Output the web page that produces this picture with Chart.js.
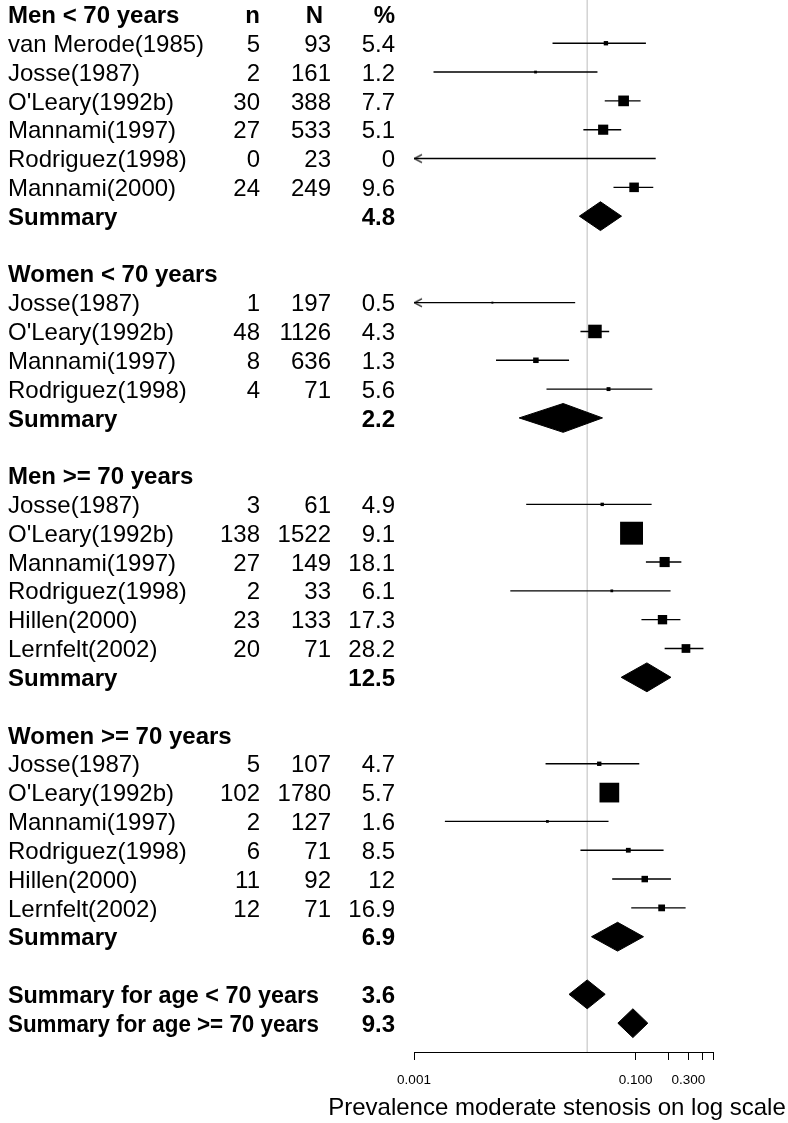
<!DOCTYPE html>
<html>
<head>
<meta charset="utf-8">
<script src="https://cdn.jsdelivr.net/npm/chart.js@4.4.0/dist/chart.umd.min.js"></script>
<style>
    html, body { margin: 0; padding: 0; background: #fff; }
    #wrap { width: 788px; height: 1123px; }
</style>
</head>
<body>
<div id="wrap"><canvas id="forestChart" width="788" height="1123"></canvas></div>
<script>
// ---- data ----
const groupTitles = ['Men < 70 years', 'Women < 70 years', 'Men >= 70 years', 'Women >= 70 years'];
const columnHeaders = ['n', 'N', '%'];

const studyNames = [
    'van Merode(1985)', 'Josse(1987)', "O'Leary(1992b)", 'Mannami(1997)', 'Rodriguez(1998)', 'Mannami(2000)',
    'Josse(1987)', "O'Leary(1992b)", 'Mannami(1997)', 'Rodriguez(1998)',
    'Josse(1987)', "O'Leary(1992b)", 'Mannami(1997)', 'Rodriguez(1998)', 'Hillen(2000)', 'Lernfelt(2002)',
    'Josse(1987)', "O'Leary(1992b)", 'Mannami(1997)', 'Rodriguez(1998)', 'Hillen(2000)', 'Lernfelt(2002)',
];
const studyGroup = [0, 0, 0, 0, 0, 0, 1, 1, 1, 1, 2, 2, 2, 2, 2, 2, 3, 3, 3, 3, 3, 3];
const nCases = [5, 2, 30, 27, 0, 24, 1, 48, 8, 4, 3, 138, 27, 2, 23, 20, 5, 102, 2, 6, 11, 12];
const nTotal = [93, 161, 388, 533, 23, 249, 197, 1126, 636, 71, 61, 1522, 149, 33, 133, 71, 107, 1780, 127, 71, 92, 71];
const pctLabels = ['5.4', '1.2', '7.7', '5.1', '0', '9.6', '0.5', '4.3', '1.3', '5.6',
    '4.9', '9.1', '18.1', '6.1', '17.3', '28.2', '4.7', '5.7', '1.6', '8.5', '12', '16.9'];
const estimates = [0.054, 0.0125, 0.078, 0.051, 0, 0.097, 0.0051, 0.043, 0.0126, 0.057,
    0.050, 0.092, 0.183, 0.061, 0.175, 0.285, 0.047, 0.058, 0.016, 0.086, 0.121, 0.172];
const ciLow = [0.0178, 0.0015, 0.0527, 0.0338, 0, 0.0632, 0.0001, 0.0318, 0.0055, 0.0157,
    0.0103, 0.078, 0.124, 0.0074, 0.113, 0.183, 0.0154, 0.050, 0.0019, 0.0318, 0.0615, 0.0914];
const ciHigh = [0.124, 0.0453, 0.111, 0.0742, 0.152, 0.1445, 0.0285, 0.0578, 0.0251, 0.1416,
    0.1396, 0.107, 0.259, 0.207, 0.254, 0.410, 0.108, 0.068, 0.057, 0.179, 0.2086, 0.283];

const summaryPct = ['4.8', '2.2', '12.5', '6.9'];
const summaryEst = [0.0482, 0.0222, 0.1265, 0.0688];
const summaryLow = [0.0311, 0.0089, 0.0742, 0.040];
const summaryHigh = [0.0747, 0.0503, 0.2086, 0.118];

const overallLabels = ['Summary for age < 70 years', 'Summary for age >= 70 years'];
const overallPct = ['3.6', '9.3'];
const overallEst = [0.0366, 0.0946];
const overallLow = [0.0251, 0.0692];
const overallHigh = [0.0532, 0.129];

const referenceValue = 0.0366;
const tickValues = [0.001, 0.1, 0.2, 0.3, 0.4, 0.5];
const tickLabels = ['0.001', '0.100', '', '0.300', '', ''];
const axisTitle = 'Prevalence moderate stenosis on log scale';

// ---- layout / style ----
const fontFamily = '"Liberation Sans", Arial, Helvetica, sans-serif';
const fontSize = 24;
const labelX = 8;
const labelMaxWidth = 311;
const textShiftY = 2;
const colRight = [260, 331, 395];
const headerRight = [260, 323, 395];
const titleX = 557;
const titleY = 1108;
const xMin = tickValues[0];
const xMax = tickValues[tickValues.length - 1];

// build the table rows (one row = one line of the plot)
const rows = [];
let rowIdx = 0;
groupTitles.forEach((title, g) => {
    rows.push({ row: rowIdx++, kind: 'header', label: title, cols: g === 0 ? columnHeaders : [] });
    studyNames.forEach((name, i) => {
        if (studyGroup[i] !== g) return;
        rows.push({
            row: rowIdx++, kind: 'study', label: name,
            cols: [String(nCases[i]), String(nTotal[i]), pctLabels[i]],
            n: nCases[i], est: estimates[i], lo: ciLow[i], hi: ciHigh[i],
        });
    });
    rows.push({
        row: rowIdx++, kind: 'summary', label: 'Summary', cols: ['', '', summaryPct[g]],
        est: summaryEst[g], lo: summaryLow[g], hi: summaryHigh[g],
    });
    rowIdx++; // blank line between groups
});
overallLabels.forEach((label, k) => {
    rows.push({
        row: rowIdx++, kind: 'summary', label, cols: ['', '', overallPct[k]],
        est: overallEst[k], lo: overallLow[k], hi: overallHigh[k],
    });
});
const axisRow = rowIdx;

const studies = rows.filter(d => d.kind === 'study');
const summaries = rows.filter(d => d.kind === 'summary');

const ciData = [];
studies.forEach(d => {
    ciData.push({ x: Math.max(d.lo, xMin), y: d.row }, { x: d.hi, y: d.row }, { x: null, y: d.row });
});

const boxData = studies.filter(d => d.est > 0).map(d => ({ x: d.est, y: d.row, n: d.n }));
const arrowData = studies.filter(d => d.lo < xMin).map(d => ({ x: xMin, y: d.row }));

// open arrow head "<" used as point style at the clipped end
const arrowHead = document.createElement('canvas');
arrowHead.width = 20;
arrowHead.height = 12;
(function () {
    const c = arrowHead.getContext('2d');
    c.strokeStyle = '#000';
    c.lineWidth = 1.3;
    c.beginPath();
    c.moveTo(18, 2);
    c.lineTo(10.5, 6);
    c.lineTo(18, 10);
    c.stroke();
})();

const diamondSets = summaries.map(d => ({
    data: [
        { x: d.lo, y: d.row },
        { x: d.est, y: d.row - 0.5 },
        { x: d.hi, y: d.row },
        { x: d.est, y: d.row + 0.5 },
        { x: d.lo, y: d.row },
    ],
    showLine: true,
    fill: 'shape',
    backgroundColor: '#000',
    borderColor: '#000',
    borderWidth: 1,
    pointRadius: 0,
    tension: 0,
}));

const tablePlugin = {
    id: 'forestTable',
    afterDraw(chart) {
        const { ctx } = chart;
        const y = chart.scales.y;
        ctx.save();
        ctx.fillStyle = '#000';
        ctx.textBaseline = 'middle';
        rows.forEach(d => {
            const py = y.getPixelForValue(d.row) + textShiftY;
            ctx.font = (d.kind === 'study' ? '' : 'bold ') + fontSize + 'px ' + fontFamily;
            ctx.textAlign = 'left';
            ctx.fillText(d.label, labelX, py, labelMaxWidth);
            ctx.textAlign = 'right';
            const right = d.kind === 'header' ? headerRight : colRight;
            d.cols.forEach((txt, k) => {
                if (txt) ctx.fillText(txt, right[k], py);
            });
        });
        // x-axis title, centred under the axis like the original
        ctx.font = fontSize + 'px ' + fontFamily;
        ctx.textAlign = 'center';
        ctx.fillText(axisTitle, titleX, titleY);
        ctx.restore();
    },
};

new Chart(document.getElementById('forestChart'), {
    type: 'scatter',
    data: {
        datasets: [
            {
                data: arrowData,
                pointStyle: arrowHead,
                pointRadius: 3,
            },
            {
                data: boxData,
                pointStyle: 'rect',
                pointRadius: ctx => Math.max(1.38 * Math.sqrt(ctx.raw ? ctx.raw.n : 1), 1.3),
                backgroundColor: '#000',
                borderWidth: 0,
            },
            ...diamondSets,
            {
                data: ciData,
                showLine: true,
                spanGaps: false,
                borderColor: '#000',
                borderWidth: 1.4,
                pointRadius: 0,
            },
            {
                data: [{ x: referenceValue, y: -0.5 }, { x: referenceValue, y: axisRow }],
                showLine: true,
                borderColor: '#d3d3d3',
                borderWidth: 1.5,
                pointRadius: 0,
            },
        ],
    },
    options: {
        responsive: false,
        animation: false,
        events: [],
        layout: {
            autoPadding: false,
            padding: { left: 414, right: 75, top: 0, bottom: 0 },
        },
        plugins: {
            legend: { display: false },
            tooltip: { enabled: false },
        },
        scales: {
            x: {
                type: 'logarithmic',
                min: xMin,
                max: xMax,
                afterBuildTicks: scale => {
                    scale.ticks = tickValues.map(v => ({ value: v }));
                },
                afterFit: scale => {
                    scale.height = 71;
                },
                ticks: {
                    autoSkip: false,
                    maxRotation: 0,
                    padding: 12,
                    color: '#000',
                    font: { family: fontFamily, size: 13.5 },
                    callback: (value, index) => tickLabels[index],
                },
                grid: {
                    drawOnChartArea: false,
                    drawTicks: true,
                    tickLength: 8,
                    color: '#000',
                    lineWidth: 1,
                },
                border: { display: true, color: '#000', width: 1 },
            },
            y: {
                type: 'linear',
                display: false,
                reverse: true,
                min: -0.5,
                max: axisRow,
            },
        },
    },
    plugins: [tablePlugin],
});
</script>
</body>
</html>
